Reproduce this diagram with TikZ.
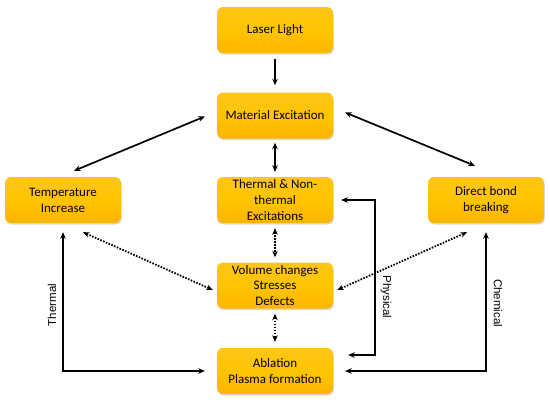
\documentclass[tikz,border=0pt]{standalone}
\usepackage{fontspec}
\setmainfont{Carlito}
\newfontfamily\labelfont{Liberation Sans}
\usetikzlibrary{arrows.meta,shadows}
\definecolor{boxtop}{HTML}{FFC61A}
\definecolor{boxmid}{HTML}{FFC400}
\definecolor{boxbot}{HTML}{FFB400}
\tikzset{
  procbox/.style={rectangle, rounded corners=6pt, minimum width=116pt, minimum height=46pt,
    top color=boxtop, bottom color=boxbot, middle color=boxmid, draw=none,
    align=center, inner sep=2pt,
    font=\fontsize{13}{15.8}\selectfont,
    drop shadow={shadow xshift=0.8pt, shadow yshift=-1.5pt, opacity=0.25, fill=black!60}},
  solidarrow/.style={line width=1.7pt, {Stealth[length=6.5pt,width=5.5pt]}-{Stealth[length=6.5pt,width=5.5pt]}},
  onearrow/.style={line width=1.7pt, -{Stealth[length=6.5pt,width=5.5pt]}},
  dotarrow/.style={line width=1.8pt, dash pattern=on 1.6pt off 1.4pt, {Stealth[length=6.5pt,width=5.5pt]}-{Stealth[length=6.5pt,width=5.5pt]}},
  pathlabel/.style={font=\labelfont\fontsize{11.5}{13}\selectfont}
}
\begin{document}
\begin{tikzpicture}[x=1pt,y=-1pt]
\useasboundingbox (0,0) rectangle (550,402);
\node[procbox] (laser) at (275,30) {Laser Light};
\node[procbox] (mat) at (275,115.5) {Material Excitation};
\node[procbox] (temp) at (63,200) {Temperature\\Increase};
\node[procbox] (therm) at (275,200) {Thermal \& Non-\\thermal\\Excitations};
\node[procbox] (direct) at (486,200) {Direct bond\\breaking};
\node[procbox] (vol) at (275,285.5) {Volume changes\\Stresses\\Defects};
\node[procbox] (abl) at (275,371) {Ablation\\Plasma formation};

\draw[onearrow, shorten <=6pt, shorten >=7pt] (laser.south) -- (mat.north);
\draw[solidarrow] ([shift={(-12,1)}]mat.west) -- ([shift={(11,-6)}]temp.north);
\draw[solidarrow] ([shift={(12,-3)}]mat.east) -- ([shift={(-11,-11)}]direct.north);
\draw[solidarrow, shorten <=4pt, shorten >=5pt] (mat.south) -- (therm.north);
\draw[dotarrow, shorten <=5pt, shorten >=5pt] (therm.south) -- (vol.north);
\draw[dotarrow, shorten <=5pt, shorten >=6pt] (vol.south) -- (abl.north);
\draw[dotarrow] ([shift={(20,9)}]temp.south) -- ([shift={(-4,4.5)}]vol.west);
\draw[dotarrow] ([shift={(-19,9)}]direct.south) -- ([shift={(4,4.5)}]vol.east);

\draw[solidarrow] ([yshift=-9pt]temp.south) |- ([xshift=-12pt]abl.west);
\draw[solidarrow] ([yshift=-9pt]direct.south) |- ([xshift=12pt]abl.east);
\coordinate (pc) at (375,355);
\draw[solidarrow] ([xshift=8pt]therm.east) -| (pc) -- ([xshift=15pt]abl.east |- pc);

\node[pathlabel, rotate=90] (lthermal) at (52,305) {Thermal};
\node[pathlabel, rotate=-90] (lphys) at (386,297) {Physical};
\node[pathlabel, rotate=-90] (lchem) at (498,303) {Chemical};
\end{tikzpicture}
\end{document}
